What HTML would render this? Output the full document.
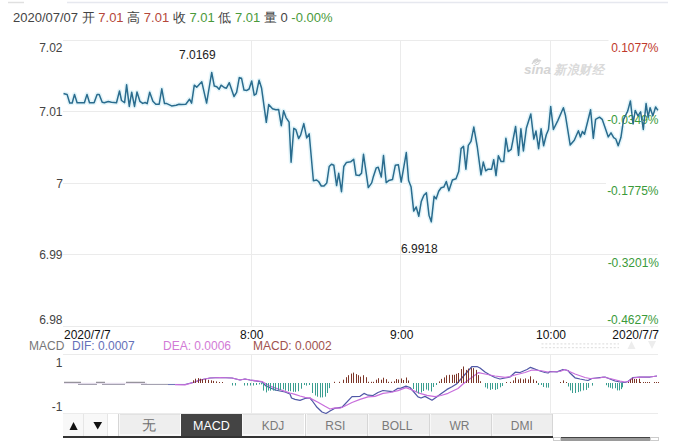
<!DOCTYPE html>
<html><head><meta charset="utf-8">
<style>
html,body{margin:0;padding:0;background:#fff;}
body{width:688px;height:441px;position:relative;overflow:hidden;font-family:"Liberation Sans",sans-serif;}
.t{position:absolute;white-space:nowrap;line-height:1;}
svg{position:absolute;left:0;top:0;}
.ax{font-size:12px;color:#444;}
.r{color:#c0392b;}
.g{color:#3a9a3a;}
.tab{position:absolute;top:414px;height:22px;width:62px;background:#eeeeee;border-left:1px solid #d6d6d6;box-shadow:inset 1px 0 0 #f8f8f8, inset 0 -2px 0 #f7f7f7, inset 0 1px 0 #e2e2e2;box-sizing:border-box;color:#7a7a7a;font-size:12px;text-align:center;line-height:24px;}
</style></head><body>
<svg width="688" height="441" viewBox="0 0 688 441">
 <line x1="8" y1="2.5" x2="24" y2="2.5" stroke="#e0e0e0" stroke-width="1.5"/>
 <line x1="67" y1="2.5" x2="668" y2="2.5" stroke="#e6e8ef" stroke-width="1.5"/>
 <g stroke="#ebebeb" stroke-width="1" fill="none">
  <line x1="63" y1="40.5" x2="658" y2="40.5"/>
  <line x1="63" y1="111.5" x2="658" y2="111.5"/>
  <line x1="63" y1="183.5" x2="658" y2="183.5"/>
  <line x1="63" y1="254.5" x2="658" y2="254.5"/>
  <line x1="63" y1="326.5" x2="658" y2="326.5"/>
  <line x1="251.5" y1="40" x2="251.5" y2="326"/>
  <line x1="400.5" y1="40" x2="400.5" y2="326"/>
  <line x1="550.5" y1="40" x2="550.5" y2="326"/>
  <line x1="63" y1="354.5" x2="658" y2="354.5"/>
  <line x1="63" y1="413.5" x2="658" y2="413.5"/>
  <line x1="251.5" y1="354" x2="251.5" y2="414"/>
  <line x1="400.5" y1="354" x2="400.5" y2="414"/>
  <line x1="550.5" y1="354" x2="550.5" y2="414"/>
 </g>
 <text x="524" y="73.5" font-family="Liberation Sans" font-style="italic" font-weight="bold" font-size="13" fill="#d4d4d4" textLength="27" lengthAdjust="spacingAndGlyphs">sina</text>
 <text x="554" y="73.5" font-family="Liberation Sans" font-style="italic" font-weight="bold" font-size="12.5" fill="#dadada" textLength="50" lengthAdjust="spacingAndGlyphs">新浪财经</text>
 <path d="M532,64 q4,-6 9,-3 q-3,-1 -5,2 M533,62 q2,-3 5,-3" fill="none" stroke="#d4d4d4" stroke-width="1.3"/>
 <circle cx="537" cy="62.5" r="2.2" fill="none" stroke="#d4d4d4" stroke-width="1"/>
 <g stroke="#e2e2e2" stroke-width="1.2" stroke-dasharray="2,1.8">
  <line x1="541.5" y1="343.8" x2="619" y2="343.8"/>
  <line x1="541.5" y1="347.6" x2="619" y2="347.6"/>
 </g>
 <polygon points="631.5,341 627.5,349 635.5,349" fill="#ededed"/>
 <polygon points="648,341 656,341 652,349" fill="#ededed"/>
 <polyline points="63.5,93.5 65.1,93.9 67.1,94.4 69.7,103.0 72.2,103.0 74.5,94.4 77.1,102.8 84.4,102.8 87.0,94.4 89.5,102.8 94.1,102.8 97.1,94.4 99.2,94.4 102.2,102.3 104.3,102.8 108.3,101.5 111.4,102.3 116.5,102.8 119.5,90.9 121.5,100.5 124.6,102.6 126.6,84.8 129.3,106.4 131.7,92.2 134.5,106.4 137.0,92.0 139.9,101.3 142.7,103.4 145.2,102.5 147.2,103.6 149.7,92.2 152.9,101.3 155.8,104.2 159.2,104.2 161.8,88.8 164.5,103.6 166.8,103.6 171.6,105.9 176.2,105.3 179.0,104.2 181.3,104.5 185.8,104.2 189.5,99.2 191.6,103.1 194.3,85.2 196.7,87.2 201.8,81.8 206.6,103.1 211.7,72.5 214.3,86.1 216.8,86.7 219.1,89.3 221.1,85.2 224.2,87.5 226.4,88.2 229.3,82.7 234.0,96.5 236.6,92.3 239.3,77.6 241.5,78.2 244.0,90.1 246.9,90.4 249.1,89.0 251.7,81.0 254.2,95.2 256.2,93.8 259.1,80.2 261.6,88.3 266.3,122.3 268.7,104.6 272.5,108.7 275.9,109.7 278.6,109.4 281.3,125.7 283.6,110.8 286.0,117.6 289.1,122.2 291.1,162.3 293.8,128.3 295.9,129.7 298.6,138.5 300.6,135.1 303.8,123.6 306.7,137.9 309.2,133.8 313.4,180.8 316.6,180.1 318.6,181.5 321.3,186.0 324.0,186.0 326.8,182.9 329.2,166.5 331.5,164.2 333.8,165.2 336.6,185.6 338.7,173.3 341.5,191.7 343.8,166.5 346.5,162.4 350.6,161.8 353.7,159.3 356.0,175.1 359.4,175.4 361.5,173.3 363.5,154.3 368.3,187.6 371.7,182.9 373.1,177.6 376.2,167.9 378.2,167.3 381.3,177.0 383.5,155.6 386.2,182.7 388.9,180.4 392.5,179.6 395.3,165.3 398.4,164.8 401.2,182.1 406.3,152.6 408.6,180.6 411.1,187.1 413.7,211.1 416.2,207.0 418.8,216.2 421.3,201.4 423.9,195.3 426.4,192.8 429.0,215.2 431.3,221.8 434.1,196.3 436.1,198.9 438.7,191.2 441.2,187.7 443.8,187.1 446.3,181.5 448.9,190.7 452.4,180.0 456.0,178.7 458.7,171.6 461.1,148.6 463.5,146.2 465.9,169.2 468.3,145.4 471.0,141.4 473.8,127.1 477.3,147.0 481.0,174.8 483.3,162.1 485.7,170.8 488.1,169.2 491.6,169.2 493.7,159.7 496.0,175.6 498.4,155.7 501.1,161.6 503.7,161.6 505.9,138.3 508.2,151.6 511.2,149.4 515.6,126.5 518.6,155.3 520.9,128.8 523.4,150.9 526.4,128.0 530.8,114.0 533.8,139.1 536.0,131.0 538.6,148.7 541.1,128.8 543.6,145.7 546.3,134.7 548.5,129.5 550.7,106.6 553.4,129.5 557.8,120.6 563.4,107.7 565.4,115.2 570.2,145.1 574.3,140.3 578.4,130.8 580.4,136.9 582.4,131.5 584.5,134.2 590.6,109.7 593.3,138.3 595.6,119.3 599.5,117.2 602.2,119.3 608.3,136.9 611.0,132.9 613.7,137.6 615.8,139.0 618.2,145.8 620.9,137.6 623.6,119.3 627.7,111.1 630.4,100.9 633.1,124.0 635.2,110.4 637.9,115.9 640.6,111.8 643.3,129.5 646.1,103.6 648.1,117.2 650.1,107.7 652.9,115.9 655.6,107.0 657.9,110.4" fill="none" stroke="#e4f5fa" stroke-width="4.5" stroke-linejoin="round"/>
 <g fill="#fff">
  <rect x="608.5" y="40" width="52" height="13"/>
  <rect x="606" y="113" width="54" height="13"/>
  <rect x="606" y="183" width="54" height="13"/>
 </g>
</svg>
<div class="t" style="left:13px;top:11px;font-size:13px;color:#444;">2020/07/07 开 <span class="r" style="color:#b5473a">7.01</span> 高 <span style="color:#b5473a">7.01</span> 收 <span style="color:#4a9a3a">7.01</span> 低 <span style="color:#4a9a3a">7.01</span> 量 0 <span style="color:#4a9a3a">-0.00%</span></div>

<div class="t ax" style="right:625.5px;top:41.5px;">7.02</div>
<div class="t ax" style="right:625.5px;top:105.8px;">7.01</div>
<div class="t ax" style="right:625px;top:177.5px;">7</div>
<div class="t ax" style="right:625.5px;top:249px;">6.99</div>
<div class="t ax" style="right:625.5px;top:314.3px;">6.98</div>

<div class="t" style="right:29.5px;top:42px;font-size:12px;color:#c0392b;">0.1077%</div>
<div class="t g" style="right:29.5px;top:114px;font-size:12px;">-0.0349%</div>
<div class="t g" style="right:29.5px;top:185px;font-size:12px;">-0.1775%</div>
<div class="t g" style="right:29px;top:257px;font-size:12px;">-0.3201%</div>
<div class="t g" style="right:29.5px;top:314px;font-size:12px;">-0.4627%</div>

<div class="t" style="left:179px;top:49px;font-size:12px;color:#222;">7.0169</div>
<div class="t" style="left:401px;top:243px;font-size:12px;color:#222;">6.9918</div>

<div class="t" style="left:64px;top:329px;font-size:12px;color:#111;">2020/7/7</div>
<div class="t" style="left:240px;top:329px;font-size:12px;color:#111;">8:00</div>
<div class="t" style="left:390px;top:329px;font-size:12px;color:#111;">9:00</div>
<div class="t" style="left:536px;top:329px;font-size:12px;color:#111;">10:00</div>
<div class="t" style="right:29px;top:329px;font-size:12px;color:#111;">2020/7/7</div>

<div class="t" style="left:29px;top:340px;font-size:12px;color:#777;">MACD</div>
<div class="t" style="left:72px;top:340px;font-size:12px;color:#6470b8;">DIF: 0.0007</div>
<div class="t" style="left:163px;top:340px;font-size:12px;color:#d27ad6;">DEA: 0.0006</div>
<div class="t" style="left:253px;top:340px;font-size:12px;color:#a0524e;">MACD: 0.0002</div>
<div class="t ax" style="right:625.5px;top:357px;">1</div>
<div class="t ax" style="right:625.5px;top:401px;">-1</div>

<svg width="688" height="441" viewBox="0 0 688 441">
 <polyline points="63.5,93.5 65.1,93.9 67.1,94.4 69.7,103.0 72.2,103.0 74.5,94.4 77.1,102.8 84.4,102.8 87.0,94.4 89.5,102.8 94.1,102.8 97.1,94.4 99.2,94.4 102.2,102.3 104.3,102.8 108.3,101.5 111.4,102.3 116.5,102.8 119.5,90.9 121.5,100.5 124.6,102.6 126.6,84.8 129.3,106.4 131.7,92.2 134.5,106.4 137.0,92.0 139.9,101.3 142.7,103.4 145.2,102.5 147.2,103.6 149.7,92.2 152.9,101.3 155.8,104.2 159.2,104.2 161.8,88.8 164.5,103.6 166.8,103.6 171.6,105.9 176.2,105.3 179.0,104.2 181.3,104.5 185.8,104.2 189.5,99.2 191.6,103.1 194.3,85.2 196.7,87.2 201.8,81.8 206.6,103.1 211.7,72.5 214.3,86.1 216.8,86.7 219.1,89.3 221.1,85.2 224.2,87.5 226.4,88.2 229.3,82.7 234.0,96.5 236.6,92.3 239.3,77.6 241.5,78.2 244.0,90.1 246.9,90.4 249.1,89.0 251.7,81.0 254.2,95.2 256.2,93.8 259.1,80.2 261.6,88.3 266.3,122.3 268.7,104.6 272.5,108.7 275.9,109.7 278.6,109.4 281.3,125.7 283.6,110.8 286.0,117.6 289.1,122.2 291.1,162.3 293.8,128.3 295.9,129.7 298.6,138.5 300.6,135.1 303.8,123.6 306.7,137.9 309.2,133.8 313.4,180.8 316.6,180.1 318.6,181.5 321.3,186.0 324.0,186.0 326.8,182.9 329.2,166.5 331.5,164.2 333.8,165.2 336.6,185.6 338.7,173.3 341.5,191.7 343.8,166.5 346.5,162.4 350.6,161.8 353.7,159.3 356.0,175.1 359.4,175.4 361.5,173.3 363.5,154.3 368.3,187.6 371.7,182.9 373.1,177.6 376.2,167.9 378.2,167.3 381.3,177.0 383.5,155.6 386.2,182.7 388.9,180.4 392.5,179.6 395.3,165.3 398.4,164.8 401.2,182.1 406.3,152.6 408.6,180.6 411.1,187.1 413.7,211.1 416.2,207.0 418.8,216.2 421.3,201.4 423.9,195.3 426.4,192.8 429.0,215.2 431.3,221.8 434.1,196.3 436.1,198.9 438.7,191.2 441.2,187.7 443.8,187.1 446.3,181.5 448.9,190.7 452.4,180.0 456.0,178.7 458.7,171.6 461.1,148.6 463.5,146.2 465.9,169.2 468.3,145.4 471.0,141.4 473.8,127.1 477.3,147.0 481.0,174.8 483.3,162.1 485.7,170.8 488.1,169.2 491.6,169.2 493.7,159.7 496.0,175.6 498.4,155.7 501.1,161.6 503.7,161.6 505.9,138.3 508.2,151.6 511.2,149.4 515.6,126.5 518.6,155.3 520.9,128.8 523.4,150.9 526.4,128.0 530.8,114.0 533.8,139.1 536.0,131.0 538.6,148.7 541.1,128.8 543.6,145.7 546.3,134.7 548.5,129.5 550.7,106.6 553.4,129.5 557.8,120.6 563.4,107.7 565.4,115.2 570.2,145.1 574.3,140.3 578.4,130.8 580.4,136.9 582.4,131.5 584.5,134.2 590.6,109.7 593.3,138.3 595.6,119.3 599.5,117.2 602.2,119.3 608.3,136.9 611.0,132.9 613.7,137.6 615.8,139.0 618.2,145.8 620.9,137.6 623.6,119.3 627.7,111.1 630.4,100.9 633.1,124.0 635.2,110.4 637.9,115.9 640.6,111.8 643.3,129.5 646.1,103.6 648.1,117.2 650.1,107.7 652.9,115.9 655.6,107.0 657.9,110.4" fill="none" stroke="#2a6c8e" stroke-width="1.5" stroke-linejoin="round"/>
 <g fill="none" stroke-width="1.25" stroke-linejoin="round">
  <g stroke="#e6dcee" stroke-width="1"><line x1="64" y1="383.3" x2="147" y2="383.3"/></g>
  <g stroke="#7d7a84" stroke-width="1">
   <line x1="64" y1="382.3" x2="81" y2="382.3"/><line x1="96" y1="382.3" x2="105" y2="382.3"/><line x1="126" y1="382.3" x2="145" y2="382.3"/>
  </g>
  <g stroke="#9b98a8" stroke-width="1">
   <line x1="78" y1="384.4" x2="97" y2="384.4"/><line x1="102" y1="384.4" x2="125" y2="384.4"/><line x1="141" y1="384.4" x2="168" y2="384.4"/>
  </g>
  <line x1="168" y1="384.5" x2="185" y2="384.5" stroke="#7078b8" stroke-width="1.1"/>
  <polyline points="185.0,384.5 195.0,382.0 200.0,380.0 210.0,378.0 220.0,377.5 232.0,378.0 240.0,380.0 245.0,379.0 250.0,380.0 262.0,382.0 266.0,386.0 275.0,390.0 285.0,392.0 290.0,394.0 291.5,398.0 295.0,399.4 300.0,400.4 305.0,398.5 310.0,398.0 312.0,400.5 317.0,407.3 322.0,412.0 326.0,413.5 330.0,411.0 335.0,408.3 342.0,407.2 352.0,396.6 360.0,396.3 364.0,393.4 368.0,395.2 373.0,395.5 378.0,392.5 383.0,390.5 390.0,391.3 393.0,391.6 398.0,388.3 401.0,388.2 406.0,386.2 410.0,387.5 413.0,391.0 418.0,396.8 421.0,398.0 425.0,396.4 432.0,400.2 437.0,396.8 441.0,393.8 447.0,389.4 452.0,386.7 456.5,384.0 472.0,366.5 477.0,366.5 480.0,368.0 485.0,372.0 490.0,375.0 495.0,377.5 500.0,379.0 505.0,378.0 510.0,377.0 515.2,372.2 520.0,372.5 527.0,369.5 530.5,367.3 540.0,371.0 545.0,372.5 548.0,373.0 550.0,371.5 557.0,371.8 563.0,369.5 568.0,370.5 570.0,373.0 575.0,377.8 580.0,379.0 585.0,380.0 588.0,380.5 592.0,378.5 600.0,377.5 605.0,377.0 610.0,379.0 615.0,381.0 620.0,382.0 625.0,382.5 628.0,381.5 633.0,377.5 640.0,377.0 650.0,377.0 657.0,376.0" stroke="#5058a6"/>
  <polyline points="175.0,384.6 185.0,384.8 195.0,382.0 200.0,380.0 210.0,378.0 220.0,377.5 232.0,378.0 240.0,380.0 245.0,379.0 250.0,380.0 262.0,381.5 270.0,386.2 280.0,389.6 290.0,393.0 295.0,394.4 300.0,396.0 305.0,397.3 310.0,398.1 318.0,402.2 325.0,406.3 330.0,409.0 335.0,407.8 340.0,408.2 345.0,406.0 352.0,402.5 360.0,399.4 368.0,396.8 375.0,396.4 383.0,393.3 390.0,392.5 398.0,390.6 406.0,387.6 412.0,390.0 420.0,393.3 427.0,395.4 435.0,396.7 441.0,395.5 448.0,393.3 458.0,388.5 463.0,384.0 478.5,372.6 485.0,374.0 495.0,376.0 505.0,377.3 510.0,376.5 515.0,375.0 525.0,372.5 532.0,370.0 540.0,370.5 548.0,372.0 560.0,371.5 565.0,369.5 575.0,374.0 585.0,377.5 590.0,378.5 600.0,378.0 603.0,377.0 610.0,378.5 620.0,381.0 625.0,382.0 628.0,381.5 633.0,378.0 640.0,377.2 650.0,377.0 657.0,376.0" stroke="#c86edc"/>
 </g>
 <rect x="193" y="380.3" width="1" height="2.7" fill="#7d3628"/><rect x="195" y="378.7" width="1" height="4.3" fill="#7d3628"/><rect x="198" y="378.1" width="1" height="4.9" fill="#7d3628"/><rect x="200" y="378.7" width="1" height="4.3" fill="#7d3628"/><rect x="202" y="379.2" width="1" height="3.8" fill="#7d3628"/><rect x="205" y="379.2" width="1" height="3.8" fill="#7d3628"/><rect x="208" y="379.8" width="1" height="3.2" fill="#7d3628"/><rect x="211" y="380.3" width="1" height="2.7" fill="#7d3628"/><rect x="213" y="380.9" width="1" height="2.1" fill="#7d3628"/><rect x="216" y="381.4" width="1" height="1.6" fill="#7d3628"/><rect x="219" y="382.0" width="1" height="1.0" fill="#7d3628"/><rect x="222" y="382.0" width="1" height="1.0" fill="#7d3628"/><rect x="232" y="383.0" width="1" height="2.5" fill="#3a9e90"/><rect x="235" y="383.0" width="1" height="2.5" fill="#3a9e90"/><rect x="244" y="383.0" width="1" height="2.5" fill="#3a9e90"/><rect x="247" y="383.0" width="1" height="2.5" fill="#3a9e90"/><rect x="250" y="383.0" width="1" height="2.5" fill="#3a9e90"/><rect x="253" y="383.0" width="1" height="2.5" fill="#3a9e90"/><rect x="256" y="383.0" width="1" height="2.0" fill="#3a9e90"/><rect x="259" y="383.0" width="1" height="1.4" fill="#3a9e90"/><rect x="261" y="383.0" width="1" height="1.4" fill="#3a9e90"/><rect x="263" y="383.0" width="1" height="7.6" fill="#3a9e90"/><rect x="266" y="383.0" width="1" height="9.4" fill="#3a9e90"/><rect x="268" y="383.0" width="1" height="7.6" fill="#3a9e90"/><rect x="270" y="383.0" width="1" height="7.6" fill="#3a9e90"/><rect x="273" y="383.0" width="1" height="7.6" fill="#3a9e90"/><rect x="275" y="383.0" width="1" height="7.6" fill="#3a9e90"/><rect x="278" y="383.0" width="1" height="7.6" fill="#3a9e90"/><rect x="280" y="383.0" width="1" height="7.0" fill="#3a9e90"/><rect x="283" y="383.0" width="1" height="6.3" fill="#3a9e90"/><rect x="285" y="383.0" width="1" height="7.6" fill="#3a9e90"/><rect x="288" y="383.0" width="1" height="8.2" fill="#3a9e90"/><rect x="290" y="383.0" width="1" height="8.2" fill="#3a9e90"/><rect x="293" y="383.0" width="1" height="8.8" fill="#3a9e90"/><rect x="295" y="383.0" width="1" height="8.8" fill="#3a9e90"/><rect x="298" y="383.0" width="1" height="8.2" fill="#3a9e90"/><rect x="301" y="383.0" width="1" height="5.7" fill="#3a9e90"/><rect x="304" y="383.0" width="1" height="2.0" fill="#3a9e90"/><rect x="306" y="383.0" width="1" height="2.6" fill="#3a9e90"/><rect x="309" y="383.0" width="1" height="2.0" fill="#3a9e90"/><rect x="312" y="383.0" width="1" height="10.0" fill="#3a9e90"/><rect x="315" y="383.0" width="1" height="12.5" fill="#3a9e90"/><rect x="317" y="383.0" width="1" height="13.7" fill="#3a9e90"/><rect x="320" y="383.0" width="1" height="14.4" fill="#3a9e90"/><rect x="322" y="383.0" width="1" height="14.4" fill="#3a9e90"/><rect x="325" y="383.0" width="1" height="13.7" fill="#3a9e90"/><rect x="327" y="383.0" width="1" height="10.0" fill="#3a9e90"/><rect x="329" y="383.0" width="1" height="5.1" fill="#3a9e90"/><rect x="334" y="381.8" width="1" height="1.2" fill="#7d3628"/><rect x="339" y="381.8" width="1" height="1.2" fill="#7d3628"/><rect x="343" y="379.7" width="1" height="3.3" fill="#7d3628"/><rect x="346" y="377.2" width="1" height="5.8" fill="#7d3628"/><rect x="348" y="375.2" width="1" height="7.8" fill="#7d3628"/><rect x="351" y="373.6" width="1" height="9.4" fill="#7d3628"/><rect x="353" y="372.6" width="1" height="10.4" fill="#7d3628"/><rect x="356" y="374.1" width="1" height="8.9" fill="#7d3628"/><rect x="358" y="375.2" width="1" height="7.8" fill="#7d3628"/><rect x="360" y="376.7" width="1" height="6.3" fill="#7d3628"/><rect x="363" y="375.2" width="1" height="7.8" fill="#7d3628"/><rect x="366" y="377.2" width="1" height="5.8" fill="#7d3628"/><rect x="368" y="381.8" width="1" height="1.2" fill="#7d3628"/><rect x="371" y="381.8" width="1" height="1.2" fill="#7d3628"/><rect x="373" y="381.8" width="1" height="1.2" fill="#7d3628"/><rect x="376" y="379.7" width="1" height="3.3" fill="#7d3628"/><rect x="378" y="378.2" width="1" height="4.8" fill="#7d3628"/><rect x="381" y="379.7" width="1" height="3.3" fill="#7d3628"/><rect x="383" y="377.7" width="1" height="5.3" fill="#7d3628"/><rect x="386" y="379.2" width="1" height="3.8" fill="#7d3628"/><rect x="388" y="381.8" width="1" height="1.2" fill="#7d3628"/><rect x="391" y="381.8" width="1" height="1.2" fill="#7d3628"/><rect x="394" y="381.3" width="1" height="1.7" fill="#7d3628"/><rect x="396" y="379.0" width="1" height="4.0" fill="#7d3628"/><rect x="398" y="379.5" width="1" height="3.5" fill="#7d3628"/><rect x="401" y="378.5" width="1" height="4.5" fill="#7d3628"/><rect x="403" y="380.0" width="1" height="3.0" fill="#7d3628"/><rect x="406" y="377.5" width="1" height="5.5" fill="#7d3628"/><rect x="408" y="380.5" width="1" height="2.5" fill="#7d3628"/><rect x="413" y="383.0" width="1" height="6.0" fill="#3a9e90"/><rect x="416" y="383.0" width="1" height="8.5" fill="#3a9e90"/><rect x="418" y="383.0" width="1" height="10.5" fill="#3a9e90"/><rect x="421" y="383.0" width="1" height="9.5" fill="#3a9e90"/><rect x="423" y="383.0" width="1" height="8.0" fill="#3a9e90"/><rect x="426" y="383.0" width="1" height="6.5" fill="#3a9e90"/><rect x="428" y="383.0" width="1" height="7.5" fill="#3a9e90"/><rect x="431" y="383.0" width="1" height="8.5" fill="#3a9e90"/><rect x="433" y="383.0" width="1" height="4.0" fill="#3a9e90"/><rect x="436" y="383.0" width="1" height="2.0" fill="#3a9e90"/><rect x="439" y="381.4" width="1" height="1.6" fill="#7d3628"/><rect x="441" y="378.9" width="1" height="4.1" fill="#7d3628"/><rect x="444" y="377.4" width="1" height="5.6" fill="#7d3628"/><rect x="446" y="375.3" width="1" height="7.7" fill="#7d3628"/><rect x="449" y="374.8" width="1" height="8.2" fill="#7d3628"/><rect x="452" y="374.8" width="1" height="8.2" fill="#7d3628"/><rect x="454" y="374.8" width="1" height="8.2" fill="#7d3628"/><rect x="456" y="373.8" width="1" height="9.2" fill="#7d3628"/><rect x="458" y="373.0" width="1" height="10.0" fill="#7d3628"/><rect x="461" y="369.0" width="1" height="14.0" fill="#7d3628"/><rect x="463" y="366.5" width="1" height="16.5" fill="#7d3628"/><rect x="466" y="369.9" width="1" height="13.1" fill="#7d3628"/><rect x="468" y="368.6" width="1" height="14.4" fill="#7d3628"/><rect x="471" y="368.1" width="1" height="14.9" fill="#7d3628"/><rect x="473" y="368.1" width="1" height="14.9" fill="#7d3628"/><rect x="476" y="369.9" width="1" height="13.1" fill="#7d3628"/><rect x="478" y="375.1" width="1" height="7.9" fill="#7d3628"/><rect x="480" y="381.2" width="1" height="1.8" fill="#7d3628"/><rect x="485" y="383.0" width="1" height="4.3" fill="#3a9e90"/><rect x="487" y="383.0" width="1" height="5.6" fill="#3a9e90"/><rect x="490" y="383.0" width="1" height="6.9" fill="#3a9e90"/><rect x="492" y="383.0" width="1" height="6.1" fill="#3a9e90"/><rect x="495" y="383.0" width="1" height="6.9" fill="#3a9e90"/><rect x="497" y="383.0" width="1" height="6.1" fill="#3a9e90"/><rect x="500" y="383.0" width="1" height="4.3" fill="#3a9e90"/><rect x="502" y="383.0" width="1" height="3.0" fill="#3a9e90"/><rect x="506" y="382.0" width="1" height="1.0" fill="#7d3628"/><rect x="510" y="381.9" width="1" height="1.1" fill="#7d3628"/><rect x="513" y="380.4" width="1" height="2.6" fill="#7d3628"/><rect x="515" y="377.4" width="1" height="5.6" fill="#7d3628"/><rect x="518" y="379.4" width="1" height="3.6" fill="#7d3628"/><rect x="520" y="378.4" width="1" height="4.6" fill="#7d3628"/><rect x="523" y="379.4" width="1" height="3.6" fill="#7d3628"/><rect x="525" y="378.4" width="1" height="4.6" fill="#7d3628"/><rect x="528" y="379.4" width="1" height="3.6" fill="#7d3628"/><rect x="530" y="376.3" width="1" height="6.7" fill="#7d3628"/><rect x="533" y="379.4" width="1" height="3.6" fill="#7d3628"/><rect x="536" y="380.9" width="1" height="2.1" fill="#7d3628"/><rect x="538" y="383.0" width="1" height="2.0" fill="#3a9e90"/><rect x="541" y="383.0" width="1" height="2.0" fill="#3a9e90"/><rect x="543" y="383.0" width="1" height="4.0" fill="#3a9e90"/><rect x="546" y="383.0" width="1" height="4.6" fill="#3a9e90"/><rect x="548" y="383.0" width="1" height="4.6" fill="#3a9e90"/><rect x="560" y="382.0" width="1" height="1.0" fill="#7d3628"/><rect x="563" y="380.4" width="1" height="2.6" fill="#7d3628"/><rect x="566" y="382.0" width="1" height="1.0" fill="#7d3628"/><rect x="568" y="383.0" width="1" height="3.5" fill="#3a9e90"/><rect x="570" y="383.0" width="1" height="7.4" fill="#3a9e90"/><rect x="572" y="383.0" width="1" height="10.0" fill="#3a9e90"/><rect x="575" y="383.0" width="1" height="10.0" fill="#3a9e90"/><rect x="578" y="383.0" width="1" height="9.1" fill="#3a9e90"/><rect x="580" y="383.0" width="1" height="8.3" fill="#3a9e90"/><rect x="583" y="383.0" width="1" height="7.4" fill="#3a9e90"/><rect x="586" y="383.0" width="1" height="6.9" fill="#3a9e90"/><rect x="588" y="383.0" width="1" height="4.8" fill="#3a9e90"/><rect x="592" y="383.0" width="1" height="2.6" fill="#3a9e90"/><rect x="606" y="383.0" width="1" height="2.2" fill="#3a9e90"/><rect x="608" y="383.0" width="1" height="4.3" fill="#3a9e90"/><rect x="610" y="383.0" width="1" height="4.8" fill="#3a9e90"/><rect x="612" y="383.0" width="1" height="5.6" fill="#3a9e90"/><rect x="615" y="383.0" width="1" height="5.2" fill="#3a9e90"/><rect x="617" y="383.0" width="1" height="7.4" fill="#3a9e90"/><rect x="619" y="383.0" width="1" height="7.4" fill="#3a9e90"/><rect x="621" y="383.0" width="1" height="6.1" fill="#3a9e90"/><rect x="622" y="383.0" width="1" height="4.3" fill="#3a9e90"/><rect x="628" y="382.0" width="1" height="1.0" fill="#7d3628"/><rect x="630" y="379.4" width="1" height="3.6" fill="#7d3628"/><rect x="632" y="378.3" width="1" height="4.7" fill="#7d3628"/><rect x="634" y="379.0" width="1" height="4.0" fill="#7d3628"/><rect x="636" y="379.0" width="1" height="4.0" fill="#7d3628"/><rect x="639" y="378.7" width="1" height="4.3" fill="#7d3628"/><rect x="640" y="382.0" width="1" height="1.0" fill="#7d3628"/><rect x="643" y="382.0" width="1" height="1.0" fill="#7d3628"/><rect x="645" y="382.0" width="1" height="1.0" fill="#7d3628"/><rect x="647" y="382.0" width="1" height="1.0" fill="#7d3628"/><rect x="649" y="382.0" width="1" height="1.0" fill="#7d3628"/><rect x="654" y="382.0" width="1" height="1.0" fill="#7d3628"/><rect x="656" y="382.0" width="1" height="1.0" fill="#7d3628"/><rect x="658" y="382.0" width="1" height="1.0" fill="#7d3628"/>
</svg>

<div style="position:absolute;left:63px;top:414px;width:21px;height:22px;background:#f8f8f8;border-right:1px solid #e6e6e6;box-sizing:border-box;"></div>
<div style="position:absolute;left:84px;top:414px;width:24px;height:22px;background:#f8f8f8;border-right:1px solid #e6e6e6;box-sizing:border-box;"></div>
<svg width="688" height="441" viewBox="0 0 688 441">
 <polygon points="73.5,422 69.5,430 77.7,430" fill="#111"/>
 <polygon points="93.4,422 102.1,422 97.7,429.5" fill="#111"/>
</svg>
<div class="tab" style="left:118px;font-size:14px;color:#6e6e6e;text-indent:-1px;line-height:23px;">无</div>
<div class="tab" style="left:180.5px;background:#444;color:#fff;border-left:none;box-shadow:none;font-size:12.5px;">MACD</div>
<div class="tab" style="left:242px;border-left:none;">KDJ</div>
<div class="tab" style="left:304.5px;text-indent:-1.5px;">RSI</div>
<div class="tab" style="left:366.5px;text-indent:-2px;">BOLL</div>
<div class="tab" style="left:428.5px;text-indent:-1px;">WR</div>
<div class="tab" style="left:490.5px;width:62.5px;border-right:1px solid #d6d6d6;">DMI</div>
<div style="position:absolute;left:63px;top:436px;width:490px;height:2px;background:#333;"></div>
<div style="position:absolute;left:561px;top:437px;width:89px;height:4px;background:#9a9a9a;border-top:1px solid #444;box-sizing:border-box;"></div>
<div style="position:absolute;left:553px;top:437px;width:8px;height:4px;border:1px solid #ccc;box-sizing:border-box;"></div>
<div style="position:absolute;left:650px;top:437px;width:9px;height:4px;border:1px solid #ccc;box-sizing:border-box;"></div>
</body></html>
